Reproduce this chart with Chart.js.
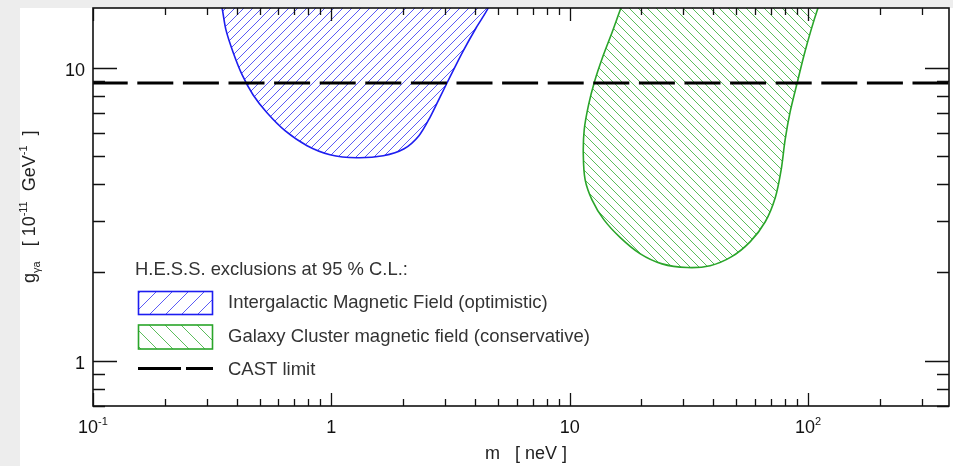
<!DOCTYPE html>
<html>
<head>
<meta charset="utf-8">
<script src="https://cdn.jsdelivr.net/npm/chart.js@4.4.1/dist/chart.umd.min.js"></script>
<style>
  html, body { margin: 0; padding: 0; background: #ededed; }
  canvas { display: block; }
</style>
</head>
<body>
<canvas id="c" width="953" height="466"></canvas>
<script>
// Axion-like particle limits: mass m [neV] against photon coupling g [1e-11 GeV^-1]

// Intergalactic magnetic field exclusion contour (optimistic)
const igmfMass     = [0.335, 0.348, 0.361, 0.387, 0.422, 0.469, 0.537, 0.639, 0.791, 0.987, 1.28, 1.65, 2.02, 2.33, 2.60, 2.86, 3.18, 3.57, 4.05, 4.55, 4.86];
const igmfCoupling = [18.4,  16.0,  13.5,  11.3,  9.47,  8.09,  7.02,  6.10,  5.42,  5.05,  4.93, 5.01, 5.29, 5.86, 6.80, 7.96, 9.47, 11.4, 13.7, 16.0, 18.4];

// Galaxy cluster magnetic field exclusion contour (conservative)
const clusterMass     = [17.6, 16.4, 15.1, 13.7, 12.7, 12.0, 11.5, 11.4, 11.6, 12.4, 13.9, 16.3, 19.7, 24.4, 31.1, 38.8, 47.6, 57.2, 66.1, 72.8, 77.1, 80.1, 84.1, 90.0, 96.3, 103, 110, 117];
const clusterCoupling = [18.4, 16.0, 13.3, 10.8, 8.96, 7.48, 6.14, 5.05, 4.15, 3.54, 3.03, 2.63, 2.32, 2.14, 2.08, 2.11, 2.26, 2.55, 2.98, 3.60, 4.49, 5.68, 7.08, 8.89, 11.1, 13.5, 16.0, 18.4];

// CAST upper limit
const castMass     = [0.1, 390];
const castCoupling = [8.87, 8.87];

// Axis ticks and labels
const xTickValues = [0.1, 1, 10, 100];
const xTickLabels = ['10^-1', '1', '10', '10^2'];
const yTickValues = [1, 10];
const yTickLabels = ['1', '10'];

const seriesLabels = [
  'Intergalactic Magnetic Field (optimistic)',
  'Galaxy Cluster magnetic field (conservative)',
  'CAST limit'
];
const legendTitle = 'H.E.S.S. exclusions at 95 % C.L.:';

const FONT = '"Liberation Sans", Arial, Helvetica, sans-serif';
const BLUE = '#1d1df0', BLUE_HATCH = '#5b5bf5';
const GREEN = '#2aa52a', GREEN_HATCH = '#5cbd5c';

const canvas = document.getElementById('c');
const ctx0 = canvas.getContext('2d');

// Diagonal hatch pattern: dir > 0 gives '/', dir < 0 gives '\'
function hatch(color, step, dir, lw) {
  const c = document.createElement('canvas');
  c.width = step; c.height = step;
  const g = c.getContext('2d');
  g.strokeStyle = color;
  g.lineWidth = lw;
  g.beginPath();
  for (let k = -1; k <= 1; k++) {
    if (dir > 0) { g.moveTo(k * step, step); g.lineTo(k * step + step, 0); }
    else { g.moveTo(k * step, 0); g.lineTo(k * step + step, step); }
  }
  g.stroke();
  return ctx0.createPattern(c, 'repeat');
}

const toPoints = (xs, ys) => xs.map((x, i) => ({ x: x, y: ys[i] }));

// Text with super/subscript pieces: [text, size, dy]
function richWidth(ctx, parts) {
  let w = 0;
  for (const p of parts) { ctx.font = p[1] + 'px ' + FONT; w += ctx.measureText(p[0]).width; }
  return w;
}
function drawRich(ctx, parts, x, y, align) {
  const w = richWidth(ctx, parts);
  let cx = align === 'center' ? x - w / 2 : (align === 'right' ? x - w : x);
  ctx.textAlign = 'left';
  ctx.textBaseline = 'alphabetic';
  for (const p of parts) {
    ctx.font = p[1] + 'px ' + FONT;
    ctx.fillText(p[0], cx, y + (p[2] || 0));
    cx += ctx.measureText(p[0]).width;
  }
}
function labelParts(s, size) {
  const bits = s.split('^');
  const parts = [[bits[0], size, 0]];
  if (bits[1]) parts.push([bits[1], 11, -8]);
  return parts;
}

function minorTicks(min, max) {
  const out = [];
  for (let d = Math.floor(Math.log10(min)); d <= Math.ceil(Math.log10(max)); d++) {
    for (let m = 2; m <= 9; m++) {
      const v = m * Math.pow(10, d);
      if (v > min && v < max) out.push(v);
    }
  }
  return out;
}

const framePlugin = {
  id: 'frame',
  beforeDraw(chart) {
    const ctx = chart.ctx;
    ctx.save();
    ctx.fillStyle = '#ededed';
    ctx.fillRect(0, 0, chart.width, chart.height);
    ctx.fillStyle = '#ffffff';
    ctx.fillRect(20, 8, chart.width - 20, chart.height - 8);
    ctx.restore();
  },
  afterDraw(chart) {
    const ctx = chart.ctx;
    const a = chart.chartArea;
    const xs = chart.scales.x, ys = chart.scales.y;
    ctx.save();

    // ticks on all four sides, pointing inwards
    ctx.strokeStyle = '#111';
    ctx.lineWidth = 1.3;
    ctx.beginPath();
    const xMinor = minorTicks(xs.min, xs.max);
    const yMinor = minorTicks(ys.min, ys.max);
    const xTick = (v, len) => {
      const p = Math.round(xs.getPixelForValue(v)) + 0.5;
      ctx.moveTo(p, a.bottom); ctx.lineTo(p, a.bottom - len);
      ctx.moveTo(p, a.top); ctx.lineTo(p, a.top + len);
    };
    const yTick = (v, len) => {
      const p = Math.round(ys.getPixelForValue(v)) + 0.5;
      ctx.moveTo(a.left, p); ctx.lineTo(a.left + len, p);
      ctx.moveTo(a.right, p); ctx.lineTo(a.right - len, p);
    };
    xTickValues.forEach(v => xTick(v, 13));
    xMinor.forEach(v => xTick(v, 7));
    yTickValues.forEach(v => yTick(v, 24));
    yMinor.forEach(v => yTick(v, 12));
    ctx.stroke();

    // frame
    ctx.lineWidth = 1.6;
    ctx.strokeRect(a.left, a.top, a.right - a.left, a.bottom - a.top);

    // tick labels
    ctx.fillStyle = '#111';
    xTickValues.forEach((v, i) => {
      drawRich(ctx, labelParts(xTickLabels[i], 18), xs.getPixelForValue(v), a.bottom + 27, 'center');
    });
    yTickValues.forEach((v, i) => {
      drawRich(ctx, labelParts(yTickLabels[i], 18), a.left - 8, ys.getPixelForValue(v) + 8.5, 'right');
    });

    // axis titles
    ctx.fillStyle = '#222';
    drawRich(ctx, [['m   [ neV ]', 18, 0]], 526, 459, 'center');
    ctx.save();
    ctx.translate(35, 283);
    ctx.rotate(-Math.PI / 2);
    drawRich(ctx, [['g', 18, 0], ['\u03b3a', 11, 5], ['   [ 10', 18, 0], ['-11', 11, -8],
                   ['  GeV', 18, 0], ['-1', 11, -8], ['  ]', 18, 0]], 0, 0, 'left');
    ctx.restore();

    // legend
    const ds = chart.data.datasets;
    ctx.fillStyle = '#333';
    drawRich(ctx, [[legendTitle, 18.4, 0]], 135, 275, 'left');
    const boxX = 138.5, boxW = 74;
    // hatched boxes
    ctx.fillStyle = hatch(BLUE_HATCH, 16, 1, 1);
    ctx.fillRect(boxX, 291.5, boxW, 23);
    ctx.strokeStyle = BLUE; ctx.lineWidth = 1.6;
    ctx.strokeRect(boxX, 291.5, boxW, 23);
    ctx.fillStyle = hatch(GREEN_HATCH, 16, -1, 1);
    ctx.fillRect(boxX, 325, boxW, 24);
    ctx.strokeStyle = GREEN;
    ctx.strokeRect(boxX, 325, boxW, 24);
    // dashed line sample
    ctx.strokeStyle = '#000'; ctx.lineWidth = 3;
    ctx.setLineDash([43, 5]);
    ctx.beginPath(); ctx.moveTo(138, 368.5); ctx.lineTo(213, 368.5); ctx.stroke();
    ctx.setLineDash([]);
    ctx.fillStyle = '#333';
    drawRich(ctx, [[ds[1].label, 18.5, 0]], 228, 308, 'left');
    drawRich(ctx, [[ds[2].label, 18.5, 0]], 228, 342, 'left');
    drawRich(ctx, [[ds[0].label, 18.5, 0]], 228, 375, 'left');
    ctx.restore();
  }
};

new Chart(canvas, {
  type: 'line',
  data: {
    datasets: [
      {
        label: seriesLabels[2],
        data: toPoints(castMass, castCoupling),
        borderColor: '#000', borderWidth: 3,
        borderDash: [36, 9.6], borderDashOffset: 1.3, borderCapStyle: 'butt',
        pointRadius: 0, fill: false, clip: 0, order: 0
      },
      {
        label: seriesLabels[0],
        data: toPoints(igmfMass, igmfCoupling),
        borderColor: BLUE, borderWidth: 1.6,
        backgroundColor: hatch(BLUE_HATCH, 9, 1, 1),
        fill: 'shape', tension: 0.3,
        pointRadius: 0, clip: 0, order: 1
      },
      {
        label: seriesLabels[1],
        data: toPoints(clusterMass, clusterCoupling),
        borderColor: GREEN, borderWidth: 1.6,
        backgroundColor: hatch(GREEN_HATCH, 9, -1, 1),
        fill: 'shape', tension: 0.3,
        pointRadius: 0, clip: 0, order: 2
      }
    ]
  },
  options: {
    responsive: false,
    animation: false,
    devicePixelRatio: 1,
    layout: { padding: { left: 93, right: 4, top: 8, bottom: 60 } },
    elements: { line: { capBezierPoints: false } },
    scales: {
      x: { type: 'logarithmic', min: 0.1, max: 390, display: false },
      y: { type: 'logarithmic', min: 0.702, max: 16, display: false }
    },
    plugins: {
      legend: { display: false },
      tooltip: { enabled: false },
      title: { display: false }
    }
  },
  plugins: [framePlugin]
});
</script>
</body>
</html>
